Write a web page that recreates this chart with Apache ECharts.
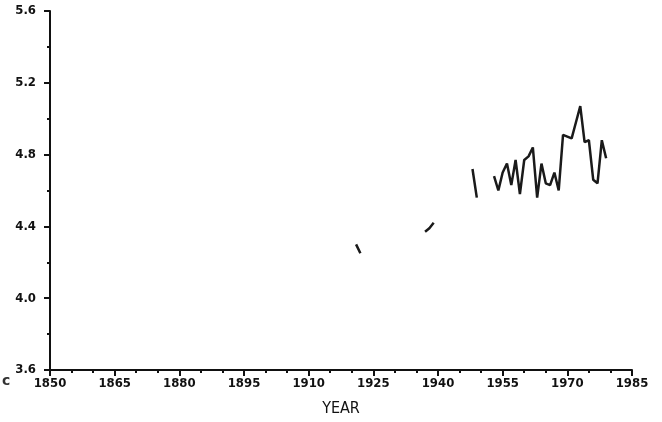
<!DOCTYPE html>
<html>
<head>
<meta charset="utf-8">
<script src="https://cdn.jsdelivr.net/npm/echarts@6/dist/echarts.min.js"></script>
<style>
html,body{margin:0;padding:0;background:#fff;}
#c{width:662px;height:422px;}
</style>
</head>
<body>
<div id="c"></div>
<script>
// Data (null = gap in the record)
var years = [1921, 1922, null, 1937, 1938, 1939, null, 1948, 1949, null,
  1953, 1954, 1955, 1956, 1957, 1958, 1959, 1960, 1961, 1962, 1963, 1964, 1965,
  1966, 1967, 1968, 1969, 1970, 1971, 1972, 1973, 1974, 1975, 1976, 1977, 1978, 1979];
var values = [4.30, 4.25, null, 4.37, 4.39, 4.42, null, 4.72, 4.56, null,
  4.68, 4.60, 4.70, 4.75, 4.63, 4.77, 4.58, 4.77, 4.79, 4.84, 4.56, 4.75, 4.64,
  4.63, 4.70, 4.60, 4.91, 4.90, 4.89, 4.98, 5.07, 4.87, 4.88, 4.66, 4.64, 4.88, 4.78];
var xStart = 1850, xEnd = 1985, xStep = 15;
var yTicks = [3.6, 4.0, 4.4, 4.8, 5.2, 5.6];
var xTitle = 'YEAR';

var seriesData = [];
for (var i = 0; i < years.length; i++) {
  if (years[i] === null) { seriesData.push([null, null]); continue; }
  seriesData.push([years[i] - xStart, values[i]]);
}

var lblFont = {fontFamily: 'DejaVu Sans Condensed, DejaVu Sans, sans-serif', fontWeight: 'bold', fontSize: 13, color: '#111'};
var chart = echarts.init(document.getElementById('c'), null, {renderer: 'canvas'});
chart.setOption({
  backgroundColor: '#fff',
  animation: false,
  grid: {left: 50, right: 30, top: 11, bottom: 51},
  xAxis: {
    type: 'value', min: 0, max: xEnd - xStart, interval: xStep,
    name: xTitle, nameLocation: 'middle', nameGap: 31,
    nameTextStyle: {fontFamily: 'DejaVu Sans Condensed, DejaVu Sans, sans-serif', fontSize: 16, color: '#111'},
    axisLine: {lineStyle: {color: '#111', width: 2}},
    axisTick: {inside: false, length: 6, lineStyle: {color: '#111', width: 2}},
    minorTick: {show: true, splitNumber: 3, length: 3, lineStyle: {color: '#111', width: 2}},
    splitLine: {show: false},
    axisLabel: Object.assign({margin: 7, formatter: function (v) { return String(v + xStart); }}, lblFont)
  },
  yAxis: {
    type: 'value', min: yTicks[0], max: yTicks[yTicks.length - 1], interval: 0.4,
    axisLine: {show: true, lineStyle: {color: '#111', width: 2}},
    axisTick: {show: true, inside: false, length: 6, lineStyle: {color: '#111', width: 2}},
    minorTick: {show: true, splitNumber: 2, length: 3, lineStyle: {color: '#111', width: 2}},
    splitLine: {show: false},
    axisLabel: Object.assign({margin: 14, formatter: function (v) { return v.toFixed(1); }}, lblFont)
  },
  graphic: [{type: 'text', left: 2, top: 374, style: {text: 'c', font: 'bold 14px DejaVu Sans', fill: '#333'}}],
  series: [{
    type: 'line', data: seriesData, connectNulls: false, showSymbol: false, symbol: 'none',
    lineStyle: {color: '#1a1a1a', width: 2.5}
  }]
});
</script>
</body>
</html>
